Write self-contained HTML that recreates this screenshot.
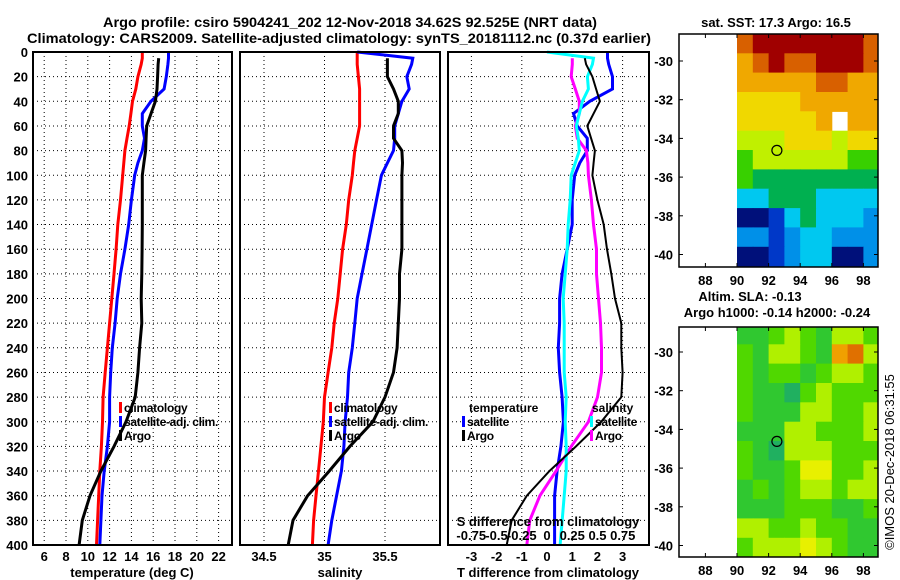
<!DOCTYPE html>
<html><head><meta charset="utf-8">
<style>
html,body{margin:0;padding:0;background:#fff;}
svg{display:block;font-family:"Liberation Sans",Arial,sans-serif;}
.b{font-weight:bold;}
</style></head>
<body>
<svg id="fig" width="900" height="580" viewBox="0 0 900 580" xmlns="http://www.w3.org/2000/svg">
<text x="350" y="27" font-size="14" class="b" text-anchor="middle" textLength="494" lengthAdjust="spacingAndGlyphs">Argo profile: csiro 5904241_202 12-Nov-2018 34.62S 92.525E (NRT data)</text>
<text x="339" y="43" font-size="14" class="b" text-anchor="middle" textLength="624" lengthAdjust="spacingAndGlyphs">Climatology: CARS2009. Satellite-adjusted climatology: synTS_20181112.nc (0.37d earlier)</text>
<text x="776" y="27" font-size="13" class="b" text-anchor="middle">sat. SST: 17.3 Argo: 16.5</text>
<text x="750" y="301" font-size="13" class="b" text-anchor="middle">Altim. SLA: -0.13</text>
<text x="777" y="317" font-size="13" class="b" text-anchor="middle">Argo h1000: -0.14 h2000: -0.24</text>
<text transform="translate(894,462) rotate(-90)" font-size="13" text-anchor="middle">©IMOS 20-Dec-2018 06:31:55</text>
<g id="root"></g>
</svg>
<script>
// ---- profile data ----
const depths = [0,5,10,20,30,40,50,60,70,80,90,100,120,140,160,180,200,220,240,260,280,300,320,340,360,380,400];
const climT = [15.0,15.0,14.9,14.6,14.4,14.1,13.95,13.8,13.6,13.4,13.3,13.2,13.0,12.75,12.6,12.4,12.2,12.0,11.8,11.6,11.4,11.35,11.25,11.1,11.0,10.9,10.8];
const satT  = [17.4,17.4,17.35,17.2,17.0,15.8,15.0,15.0,15.2,15.0,14.6,14.3,14.0,13.75,13.4,13.0,12.7,12.5,12.25,12.1,12.0,12.0,11.8,11.5,11.3,11.2,11.1];
const argoT = [null,16.5,16.45,16.4,16.35,16.2,15.8,15.4,15.35,15.3,15.15,15.0,15.0,15.0,14.98,14.95,14.9,14.95,14.75,14.6,14.35,13.5,12.4,11.2,10.2,9.5,9.2];
const climS = [35.27,35.27,35.27,35.28,35.29,35.29,35.29,35.29,35.27,35.25,35.24,35.23,35.2,35.18,35.15,35.13,35.11,35.08,35.06,35.03,35.0,34.99,34.97,34.95,34.93,34.91,34.9];
const satS  = [35.27,35.73,35.72,35.68,35.7,35.64,35.61,35.58,35.58,35.57,35.52,35.47,35.43,35.39,35.35,35.31,35.27,35.25,35.23,35.2,35.19,35.17,35.16,35.14,35.1,35.06,35.03];
const argoS = [null,35.52,35.52,35.52,35.57,35.61,35.61,35.57,35.57,35.64,35.645,35.64,35.64,35.64,35.64,35.62,35.62,35.61,35.6,35.57,35.5,35.4,35.21,35.04,34.86,34.74,34.7];
const depthTicks = [0,20,40,60,80,100,120,140,160,180,200,220,240,260,280,300,320,340,360,380,400];
const tempTicks = [6,8,10,12,14,16,18,20,22];
const salTicks = [34.5,35,35.5];
const salGrid = [34.5,35,35.5];
const tdiffTicks = [-3,-2,-1,0,1,2,3];
const tdiffGrid = [-3,-1,1,3];
const sdiffTicks = [-0.75,-0.5,-0.25,0,0.25,0.5,0.75];
const sdiffLabels = ["-0.75","-0.5","-0.25","0","0.25","0.5","0.75"];
// ---- map data (1-degree cells, rows from lat -28.6 southward, cols from lon 90) ----
const sstGrid = [
 [9,10,10,10,10,10,10,10,9],
 [8,9,10,9,9,10,10,10,9],
 [8,8,8,8,8,9,9,8,8],
 [7,7,7,7,8,8,8,8,8],
 [7,7,7,7,7,8,-1,8,8],
 [6,6,6,7,7,7,6,7,7],
 [5,6,6,6,6,6,6,5,5],
 [5,4,4,4,4,4,4,4,4],
 [3,3,4,4,4,3,3,3,3],
 [0,0,1,3,4,3,3,3,2],
 [2,2,1,2,3,3,2,2,2],
 [0,0,1,2,3,3,0,0,2]];
const slaGrid = [
 [1,1,2,3,2,1,3,3,2],
 [2,1,3,3,2,1,5,6,3],
 [2,1,2,2,1,2,3,3,2],
 [2,1,1,0,2,3,2,2,2],
 [2,1,1,1,3,3,2,2,3],
 [1,1,1,3,3,2,2,2,3],
 [2,1,0,3,3,3,2,2,2],
 [2,1,1,2,4,4,2,2,3],
 [1,2,1,2,3,3,2,3,3],
 [1,1,1,2,2,2,1,1,2],
 [3,3,2,2,3,2,2,1,1],
 [2,3,3,3,4,3,2,1,1]];
const sstColors = ["#00107a","#0038c8","#0090e8","#00c8f0","#00b050","#38d000","#c0f000","#f0d800","#f0a800","#d86000","#a00000"];
const slaColors = ["#20b060","#30c830","#50d800","#b0f000","#e8f000","#f0a000","#e07000"];
const argoLon = 92.525, argoLat = -34.62;
const lonTicks = [88,90,92,94,96,98];
const latTicks = [-30,-32,-34,-36,-38,-40];

const NS="http://www.w3.org/2000/svg";
const root=document.getElementById('root');
function el(tag,attrs,parent){const e=document.createElementNS(NS,tag);for(const k in attrs)e.setAttribute(k,attrs[k]);(parent||root).appendChild(e);return e;}
const Y0=52, YS=493/400;
const yD=d=>Y0+d*YS;
const xT=t=>66+(t-8)*10.9;
const xS=s=>264+(s-34.5)*121;
const xDT=t=>547+t*25.2;
const xDS=s=>547+s*101;
const panels=[{x0:33,x1:232,name:'temperature-panel'},{x0:240,x1:440,name:'salinity-panel'},{x0:448,x1:649,name:'difference-panel'}];

function grid(p,vx){
  const g=el('g',{});
  
  
  depthTicks.forEach(d=>{if(d>0&&d<400){const l=el('line',{x1:p.x0,x2:p.x1,y1:yD(d),y2:yD(d),stroke:'#000','stroke-width':1,'stroke-dasharray':'1,3'},g);
    
    }});
  vx.forEach(x=>{const l=el('line',{x1:x,x2:x,y1:Y0,y2:yD(400),stroke:'#000','stroke-width':1,'stroke-dasharray':'1,3'},g);
    
    });
}
grid(panels[0],tempTicks.map(xT));
grid(panels[1],salGrid.map(xS));
grid(panels[2],tdiffGrid.map(xDT));

function line(vals,xf,color,w,name){
  let d='';let pen=false;
  vals.forEach((v,i)=>{if(v===null){pen=false;return;}d+=(pen?'L':'M')+xf(v).toFixed(1)+','+yD(depths[i]).toFixed(1);pen=true;});
  const p=el('path',{d:d,fill:'none',stroke:color,'stroke-width':w,'stroke-linejoin':'miter'});
  
  
}
line(climT,xT,'#f00',3,'climatology-temperature-line');
line(satT,xT,'#00f',3,'satellite-temperature-line');
line(argoT,xT,'#000',3,'argo-temperature-line');
line(climS,xS,'#f00',3,'climatology-salinity-line');
line(satS,xS,'#00f',3,'satellite-salinity-line');
line(argoS,xS,'#000',3,'argo-salinity-line');
const satTd=satT.map((v,i)=>v-climT[i]);
const argoTd=argoT.map((v,i)=>v===null?null:v-climT[i]);
const satSd=satS.map((v,i)=>v-climS[i]);
const argoSd=argoS.map((v,i)=>v===null?null:v-climS[i]);
line(satTd,xDT,'#00f',3,'satellite-temperature-difference-line');
line(argoSd,xDS,'#f0f',3,'argo-salinity-difference-line');
line(satSd,xDS,'#0ff',3,'satellite-salinity-difference-line');
line(argoTd,xDT,'#000',2,'argo-temperature-difference-line');

panels.forEach(p=>{
  const r=el('rect',{x:p.x0,y:Y0,width:p.x1-p.x0,height:yD(400)-Y0,fill:'none',stroke:'#000','stroke-width':2});
  
  
});
function txt(x,y,s,size,anchor,name,weight){
  const t=el('text',{x:x,y:y,'font-size':size,'text-anchor':anchor||'start','font-weight':weight||'bold'});
  t.textContent=s;
  
  
  return t;
}
depthTicks.forEach(d=>txt(28,yD(d)+5,String(d),13,'end','depth-tick-label'));
tempTicks.forEach(t=>txt(xT(t),561,String(t),13,'middle','temperature-tick-label'));
salTicks.forEach(s=>txt(xS(s),561,String(s),13,'middle','salinity-tick-label'));
tdiffTicks.forEach(t=>txt(xDT(t),561,String(t),13,'middle','t-difference-tick-label'));
sdiffTicks.forEach((s,i)=>txt(xDS(s),540,sdiffLabels[i],13,'middle','s-difference-tick-label'));
txt(548,526,'S difference from climatology',13,'middle','s-difference-axis-title');
txt(132,577,'temperature (deg C)',13,'middle','temperature-axis-title');
txt(340,577,'salinity',13,'middle','salinity-axis-title');
txt(548,577,'T difference from climatology',13,'middle','t-difference-axis-title');

function legend(x,y,color,label,name){
  const r=el('rect',{x:x,y:y-10,width:3,height:11,fill:color});
  
  
  const t=txt(x+5,y,label,12,'start',name);
  t.setAttribute('letter-spacing','-0.3');
}
legend(119,412,'#f00','climatology','legend-climatology');
legend(119,426,'#00f','satellite-adj. clim.','legend-satellite-adj');
legend(119,440,'#000','Argo','legend-argo');
legend(329,412,'#f00','climatology','legend-climatology-sal');
legend(329,426,'#00f','satellite-adj. clim.','legend-satellite-adj-sal');
legend(329,440,'#000','Argo','legend-argo-sal');
txt(469,412,'temperature',12,'start','legend-temperature-heading');
txt(592,412,'salinity',12,'start','legend-salinity-heading');
legend(462,426,'#00f','satellite','legend-t-satellite');
legend(462,440,'#000','Argo','legend-t-argo');
legend(590,426,'#0ff','satellite','legend-s-satellite');
legend(590,440,'#f0f','Argo','legend-s-argo');

// ---- maps ----
function map(top,bot,lat30y,grid,colors,name,labelY){
  const mx=lon=>737+(lon-90)*15.8;
  const my=lat=>lat30y+(-30-lat)*19.35;
  const cid='clip-'+name;
  const cp=el('clipPath',{id:cid});
  el('rect',{x:679,y:top,width:199,height:bot-top},cp);
  const g=el('g',{'clip-path':'url(#'+cid+')'});
  
  
  grid.forEach((row,ri)=>row.forEach((v,ci)=>{
    if(v<0)return;
    const la=-28.6-ri, lo=90+ci;
    const r=el('rect',{x:mx(lo).toFixed(1),y:my(la).toFixed(1),width:16.3,height:19.9,fill:colors[v]},g);
    
    
  }));
  const fr=el('rect',{x:679,y:top,width:199,height:bot-top,fill:'none',stroke:'#000','stroke-width':1.5});
  
  
  lonTicks.forEach(l=>{
    el('line',{x1:mx(l),x2:mx(l),y1:bot,y2:bot-4,stroke:'#000'});
    el('line',{x1:mx(l),x2:mx(l),y1:top,y2:top+4,stroke:'#000'});
    txt(mx(l),labelY,String(l),13,'middle',name+'-lon-label');
  });
  latTicks.forEach(l=>{
    el('line',{x1:679,x2:683,y1:my(l),y2:my(l),stroke:'#000'});
    el('line',{x1:878,x2:874,y1:my(l),y2:my(l),stroke:'#000'});
    txt(673,my(l)+5,String(l),13,'end',name+'-lat-label');
  });
  const c=el('circle',{cx:mx(argoLon),cy:my(argoLat),r:5,fill:'none',stroke:'#000','stroke-width':1.2});
  
  
}
map(34,267,61,sstGrid,sstColors,'sst-map',285);
map(327,557,352,slaGrid,slaColors,'sla-map',575);
</script>
</body></html>
